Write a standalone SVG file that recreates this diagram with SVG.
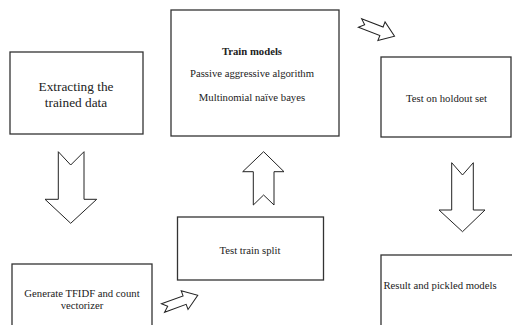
<svg xmlns="http://www.w3.org/2000/svg" width="512" height="325" viewBox="0 0 512 325">
<style>
.box{fill:#fff;stroke:#333;stroke-width:1.3}
.t{font-size:10.7px;fill:#222;text-anchor:middle}
.big{font-size:13.3px}
.b{font-weight:bold}
.arr{fill:#fff;stroke:#222;stroke-width:1}
</style>
<defs>
<path id="diag" d="M0,-4.5 L23,-4.5 L23,-10 L37,0 L23,10 L23,4.5 L0,4.5 L5,0 Z"/>
</defs>
<rect width="512" height="325" fill="#fff"/>
<g id="connectors">
<path class="arr" d="M58.3,151.7 L70.7,165 L84,151.7 L84,199.3 L96.7,199.3 L70.7,223.3 L45,199.3 L58.3,199.3 Z"/>
<use href="#diag" class="arr" transform="translate(163,308) rotate(-20)"/>
<path class="arr" d="M253.3,205 L263.6,195 L274,205 L274,171.7 L284,171.7 L263.6,151.7 L242.7,171.7 L253.3,171.7 Z"/>
<use href="#diag" class="arr" transform="translate(360,23) rotate(21)"/>
<path class="arr" d="M451.7,162.7 L462.5,175 L473.3,162.7 L473.3,210 L485,210 L462.5,231.7 L439,210 L451.7,210 Z"/>
</g>
<g font-family="'Liberation Serif', 'DejaVu Serif', serif">
<g id="extract">
<rect class="box" x="10" y="52" width="133" height="82"/>
<text class="t big" x="76" y="91">Extracting the</text>
<text class="t big" x="76" y="107">trained data</text>
</g>
<g id="train">
<rect class="box" x="171" y="10" width="168" height="126"/>
<text class="t b" x="252" y="54.5">Train models</text>
<text class="t" x="252" y="77">Passive aggressive algorithm</text>
<text class="t" x="252" y="101.4">Multinomial naïve bayes</text>
</g>
<g id="holdout">
<rect class="box" x="381" y="57" width="130" height="80"/>
<text class="t" x="446.5" y="102">Test on holdout set</text>
</g>
<g id="tfidf">
<rect class="box" x="12" y="264" width="140" height="70"/>
<text class="t" x="82" y="297">Generate TFIDF and count</text>
<text class="t" x="82" y="309">vectorizer</text>
</g>
<g id="split">
<rect class="box" x="177.5" y="217" width="146" height="63"/>
<text class="t" x="250" y="253.7">Test train split</text>
</g>
<g id="result">
<rect class="box" x="381" y="255" width="140" height="80"/>
<text class="t" x="440" y="288.7">Result and pickled models</text>
</g>
</g>
</svg>
